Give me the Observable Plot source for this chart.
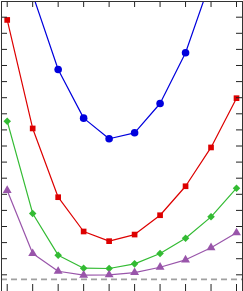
<!DOCTYPE html>
<html>
<head>
<meta charset="utf-8">
<script src="https://cdn.jsdelivr.net/npm/d3@7"></script>
<script src="https://cdn.jsdelivr.net/npm/@observablehq/plot@0.6"></script>
<style>
  html, body { margin: 0; padding: 0; background: #fff; }
  svg { display: block; }
</style>
</head>
<body>
<div id="chart"></div>
<script>
// x positions (index of sample)
const xs = [0, 1, 2, 3, 4, 5, 6, 7, 8, 9];
// series values (arbitrary units)
const blue   = [24.0, 17.41, 12.75, 9.73, 8.45, 8.82, 10.64, 13.79, 18.34, 24.5];
const red    = [15.83, 9.09, 4.82, 2.69, 2.09, 2.50, 3.70, 5.50, 7.91, 10.97];
const green  = [9.54, 3.81, 1.22, 0.41, 0.39, 0.68, 1.32, 2.27, 3.60, 5.38];
const purple = [5.24, 1.32, 0.22, -0.02, 0.0, 0.14, 0.47, 0.93, 1.68, 2.61];
const baseline = [-0.29];
const xTicks = [0, 1, 2, 3, 4, 5, 6, 7, 8, 9];
const yTicks = [0, 1, 2, 3, 4, 5, 6, 7, 8, 9, 10, 11, 12, 13, 14, 15, 16];

const W = 243, H = 291;
const series = [
  {name: "blue", values: blue, color: "#0000dd", symbol: "circle", r: 3.8},
  {name: "red", values: red, color: "#dd0000", symbol: "square", r: 3.2},
  {name: "green", values: green, color: "#33bb33", symbol: "diamond2", r: 3.4},
  {name: "purple", values: purple, color: "#9955aa", symbol: "triangle", r: 3.3}
];

const marks = [
  Plot.ruleY(baseline, {stroke: "#a0a0a0", strokeWidth: 1.7, strokeDasharray: "6,4"})
];
for (const s of series) {
  const data = xs.map((x, i) => ({x, y: s.values[i]}));
  marks.push(Plot.line(data, {x: "x", y: "y", stroke: s.color, strokeWidth: 1.2, clip: true}));
  marks.push(Plot.dot(data, {x: "x", y: "y", fill: s.color, stroke: "none", symbol: s.symbol, r: s.r, clip: true}));
}
// inward tick marks on all four sides (no labels)
marks.push(
  Plot.tickX(xTicks, {x: d => d, stroke: "#222", insetBottom: H - 1 - 6}),
  Plot.tickX(xTicks, {x: d => d, stroke: "#222", insetTop: H - 1 - 7}),
  Plot.tickY(yTicks, {y: d => d, stroke: "#222", insetRight: W - 2 - 6}),
  Plot.tickY(yTicks, {y: d => d, stroke: "#222", insetLeft: W - 2 - 6}),
  Plot.frame({stroke: "#333"})
);

const chart = Plot.plot({
  width: W,
  height: H,
  marginTop: 1,
  marginLeft: 1,
  marginRight: 1,
  marginBottom: 0,
  x: {domain: [-0.224, 9.235], axis: null},
  y: {domain: [-1.037, 16.975], axis: null},
  style: {background: "#fff", overflow: "hidden"},
  marks
});
document.getElementById("chart").appendChild(chart);
</script>
</body>
</html>
